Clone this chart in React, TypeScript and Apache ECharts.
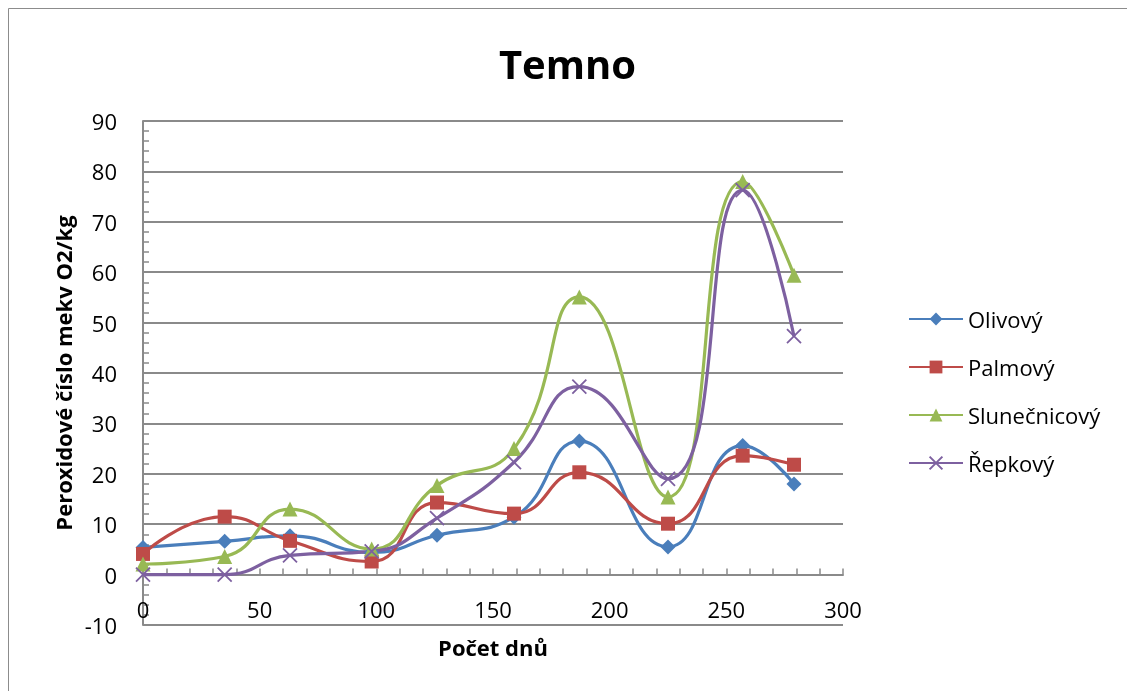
import React, { useEffect, useRef } from "react";
import * as echarts from "echarts";

const days = [0, 35, 63, 98, 126, 159, 187, 225, 257, 279];
const olivovy = [5.4, 6.6, 7.7, 4.4, 7.8, 11.4, 26.5, 5.5, 25.6, 18.0];
const palmovy = [4.1, 11.5, 6.7, 2.6, 14.3, 12.1, 20.3, 10.1, 23.6, 21.8];
const slunecnicovy = [2.1, 3.6, 13.0, 5.1, 17.7, 25.0, 55.1, 15.4, 78.0, 59.4];
const repkovy = [0, 0, 3.8, 4.6, 11.2, 22.3, 37.3, 19.0, 76.3, 47.3];

const seriesNames = ["Olivový", "Palmový", "Slunečnicový", "Řepkový"];
const seriesColors = ["#4A7EBB", "#BE4B48", "#98B954", "#7D60A0"];
const seriesValues = [olivovy, palmovy, slunecnicovy, repkovy];
const seriesSymbols = ["diamond", "rect", "triangle", "path://M0 0L10 10M10 0L0 10"];
const symbolSizes = [15, 14, 15, 14];

const titleText = "Temno";
const xName = "Počet dnů";
const yName = "Peroxidové číslo mekv O2/kg";

const FONT = "'Open Sans', 'Noto Sans', sans-serif";
const GRID_COLOR = "#8A8A8A";

const Y_MIN = -10;
const Y_MAX = 90;
const GRID_TOP = 113;
const GRID_BOTTOM = 66;
const CHART_W = 1119;
const CHART_H = 683;

export default function App() {
  const ref = useRef<HTMLDivElement>(null);
  useEffect(() => {
    const chart = echarts.init(ref.current!, undefined, { renderer: "svg" });
    const plotH = CHART_H - GRID_TOP - GRID_BOTTOM;
    const zeroOffset = (plotH * (0 - Y_MIN)) / (Y_MAX - Y_MIN);
    const series = seriesNames.map((name, i) => ({
      name,
      type: "line",
      data: days.map((d, j) => [d, seriesValues[i][j]]),
      smooth: 0.5,
      symbol: seriesSymbols[i],
      symbolSize: symbolSizes[i],
      showSymbol: true,
      lineStyle: { color: seriesColors[i], width: 3.2 },
      itemStyle:
        i === 3
          ? { color: seriesColors[i], borderColor: seriesColors[i], borderWidth: 1.8 }
          : { color: seriesColors[i], borderWidth: 0 },
      emphasis: { disabled: true },
    }));
    chart.setOption({
      animation: false,
      textStyle: { fontFamily: FONT },
      title: {
        text: titleText,
        left: "center",
        top: 30,
        textStyle: { fontFamily: FONT, fontSize: 40, fontWeight: "bold", color: "#000" },
      },
      graphic: [
        {
          type: "line",
          shape: { x1: 0.5, y1: 0.5, x2: CHART_W, y2: 0.5 },
          style: { stroke: "#8C8C8C", lineWidth: 1 },
          silent: true,
        },
        {
          type: "line",
          shape: { x1: 0.5, y1: 0.5, x2: 0.5, y2: CHART_H },
          style: { stroke: "#8C8C8C", lineWidth: 1 },
          silent: true,
        },
      ],
      legend: {
        orient: "vertical",
        left: 895,
        top: 294,
        itemWidth: 54,
        itemHeight: 16,
        itemGap: 24,
        textStyle: { fontFamily: FONT, fontSize: 22, color: "#000", lineHeight: 24 },
        data: seriesNames,
      },
      grid: {
        left: 135,
        right: 284,
        top: GRID_TOP,
        bottom: GRID_BOTTOM,
        containLabel: false,
        outerBoundsMode: "none",
      },
      xAxis: {
        type: "value",
        position: "bottom",
        offset: -zeroOffset,
        min: 0,
        max: 300,
        interval: 50,
        name: xName,
        nameLocation: "middle",
        nameGap: 61,
        nameTextStyle: { fontFamily: FONT, fontSize: 22, fontWeight: "bold", color: "#000" },
        axisLine: { show: true, onZero: false, lineStyle: { color: GRID_COLOR, width: 2 } },
        axisTick: { show: true, inside: true, length: 6, lineStyle: { color: GRID_COLOR, width: 1.5 } },
        minorTick: { show: true, splitNumber: 5, length: 6, lineStyle: { color: GRID_COLOR, width: 1.5 } },
        axisLabel: { fontFamily: FONT, fontSize: 22, color: "#000", margin: 23 },
        splitLine: { show: false },
      },
      yAxis: {
        type: "value",
        min: Y_MIN,
        max: Y_MAX,
        interval: 10,
        name: yName,
        nameLocation: "middle",
        nameGap: 68,
        nameRotate: 90,
        nameTextStyle: { fontFamily: FONT, fontSize: 22, fontWeight: "bold", color: "#000" },
        axisLine: { show: true, onZero: false, lineStyle: { color: GRID_COLOR, width: 2 } },
        axisTick: { show: true, inside: true, length: 6, lineStyle: { color: GRID_COLOR, width: 1.5 } },
        minorTick: { show: true, splitNumber: 5, length: 6, lineStyle: { color: GRID_COLOR, width: 1.5 } },
        axisLabel: { fontFamily: FONT, fontSize: 22, color: "#000", margin: 26 },
        splitLine: { show: true, lineStyle: { color: GRID_COLOR, width: 2 } },
      },
      series,
    });
    return () => chart.dispose();
  }, []);
  return (
    <div
      ref={ref}
      style={{ position: "fixed", left: 8, top: 8, width: CHART_W, height: CHART_H }}
    />
  );
}
